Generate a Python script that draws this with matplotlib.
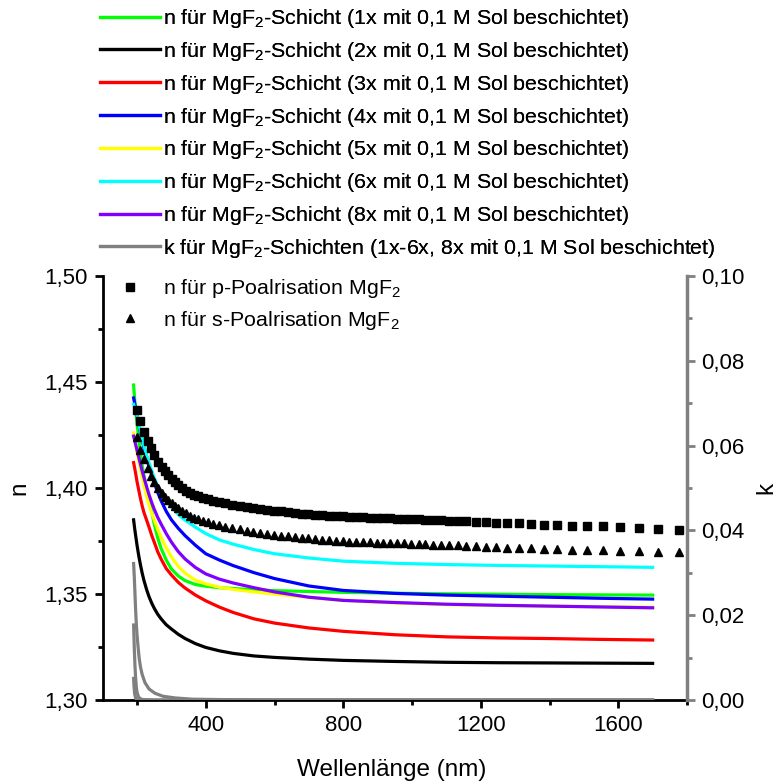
import matplotlib
matplotlib.use("Agg")
import matplotlib.pyplot as plt
from matplotlib.ticker import MultipleLocator, FuncFormatter

plt.rcParams['font.family'] = ['Liberation Sans', 'DejaVu Sans']
plt.rcParams['mathtext.fontset'] = 'custom'
plt.rcParams['mathtext.rm'] = 'Liberation Sans'
plt.rcParams['mathtext.it'] = 'Liberation Sans:italic'
plt.rcParams['mathtext.default'] = 'regular'

# ---------------- data ----------------
wl = [190, 193, 196, 200, 205, 210, 215, 220, 228, 235, 243, 250, 260, 270, 285, 300, 320, 340,
      370, 400, 440, 480, 540, 600, 700, 800, 950, 1100, 1250, 1400, 1550, 1700]
n_1x = [1.4486, 1.4420, 1.4365, 1.4305, 1.4230, 1.4165, 1.4105, 1.4060, 1.3995, 1.3945, 1.3885,
        1.3830, 1.3765, 1.3715, 1.3660, 1.3618, 1.3585, 1.3563, 1.3545, 1.3537, 1.3530, 1.3526,
        1.3520, 1.3516, 1.3512, 1.3508, 1.3504, 1.3501, 1.3499, 1.3497, 1.3496, 1.3495]
n_2x = [1.3850, 1.3810, 1.3775, 1.3730, 1.3680, 1.3637, 1.3598, 1.3565, 1.3520, 1.3487, 1.3456,
        1.3433, 1.3405, 1.3383, 1.3355, 1.3335, 1.3310, 1.3290, 1.3266, 1.3248, 1.3232, 1.3220,
        1.3208, 1.3201, 1.3193, 1.3187, 1.3182, 1.3178, 1.3176, 1.3175, 1.3174, 1.3173]
n_3x = [1.4120, 1.4095, 1.4068, 1.4030, 1.3990, 1.3950, 1.3915, 1.3885, 1.3848, 1.3815, 1.3775,
        1.3745, 1.3700, 1.3665, 1.3620, 1.3590, 1.3555, 1.3528, 1.3495, 1.3468, 1.3438, 1.3413,
        1.3383, 1.3363, 1.3340, 1.3324, 1.3308, 1.3298, 1.3293, 1.3290, 1.3286, 1.3283]
n_4x = [1.4425, 1.4400, 1.4370, 1.4340, 1.4300, 1.4260, 1.4225, 1.4190, 1.4140, 1.4100, 1.4060,
        1.4025, 1.3980, 1.3940, 1.3890, 1.3850, 1.3810, 1.3775, 1.3730, 1.3690, 1.3660, 1.3634,
        1.3601, 1.3573, 1.3538, 1.3517, 1.3503, 1.3495, 1.3490, 1.3485, 1.3480, 1.3476]
n_5x = [1.4260, 1.4235, 1.4205, 1.4170, 1.4125, 1.4085, 1.4048, 1.4012, 1.3960, 1.3920, 1.3880,
        1.3850, 1.3805, 1.3768, 1.3718, 1.3675, 1.3630, 1.3598, 1.3565, 1.3548, 1.3532, 1.3522,
        1.3510, 1.3500, 1.3484, 1.3470, 1.3458, 1.3450, 1.3446, 1.3443, 1.3440, 1.3438]
n_6x = [1.4395, 1.4380, 1.4362, 1.4345, 1.4305, 1.4268, 1.4232, 1.4200, 1.4155, 1.4118, 1.4080,
        1.4048, 1.4010, 1.3978, 1.3940, 1.3912, 1.3875, 1.3848, 1.3815, 1.3785, 1.3755, 1.3735,
        1.3710, 1.3690, 1.3670, 1.3655, 1.3645, 1.3639, 1.3635, 1.3632, 1.3629, 1.3626]
n_8x = [1.4245, 1.4225, 1.4205, 1.4178, 1.4145, 1.4112, 1.4080, 1.4050, 1.4005, 1.3968, 1.3930,
        1.3900, 1.3862, 1.3830, 1.3785, 1.3745, 1.3700, 1.3665, 1.3625, 1.3595, 1.3570, 1.3552,
        1.3530, 1.3510, 1.3485, 1.3470, 1.3460, 1.3452, 1.3447, 1.3443, 1.3439, 1.3435]

wl_k1 = [190, 192, 194, 196, 198, 200, 203, 206, 210, 215, 223, 235, 252, 275, 310, 360, 450, 600, 1700]
k1 = [0.0322, 0.0290, 0.0250, 0.0210, 0.0178, 0.0153, 0.0125, 0.0100, 0.0078, 0.0060, 0.0041,
      0.0026, 0.0016, 0.0009, 0.0005, 0.0002, 0.0001, 0.0, 0.0]
wl_k2 = [190, 191, 192, 194, 196, 198, 200, 205, 215, 250, 1700]
k2 = [0.0177, 0.0150, 0.0122, 0.0080, 0.0050, 0.0030, 0.0018, 0.0006, 0.0001, 0.0, 0.0]
wl_k3 = [190, 191, 193, 196, 200, 1700]
k3 = [0.0051, 0.0035, 0.0015, 0.0004, 0.0, 0.0]

wl_pts = [199, 210, 220, 231, 241, 250, 262, 272, 281, 291, 301, 310, 320, 332, 343, 354, 366, 378,
          393, 407, 422, 439, 456, 477, 500, 519, 537, 558, 577, 597, 618, 639, 660, 679, 697, 718,
          738, 759, 779, 799, 818, 837, 857, 878, 898, 917, 936, 956, 977, 998, 1019, 1038, 1061,
          1084, 1108, 1133, 1157, 1186, 1215, 1245, 1277, 1311, 1345, 1384, 1422, 1465, 1509, 1556,
          1606, 1661, 1717, 1777]
n_p = [1.4370, 1.4315, 1.4265, 1.4222, 1.4188, 1.4158, 1.4122, 1.4098, 1.4080, 1.4060, 1.4042, 1.4027,
       1.4013, 1.3999, 1.3988, 1.3978, 1.3969, 1.3962, 1.3955, 1.3948, 1.3941, 1.3934, 1.3928, 1.3921,
       1.3915, 1.3911, 1.3907, 1.3902, 1.3898, 1.3894, 1.3890, 1.3886, 1.3882, 1.3879, 1.3877, 1.3874,
       1.3872, 1.3870, 1.3868, 1.3866, 1.3865, 1.3863, 1.3862, 1.3860, 1.3859, 1.3858, 1.3857, 1.3856,
       1.3854, 1.3853, 1.3852, 1.3851, 1.3849, 1.3848, 1.3846, 1.3845, 1.3843, 1.3841, 1.3839, 1.3837,
       1.3835, 1.3833, 1.3831, 1.3828, 1.3825, 1.3823, 1.3821, 1.3819, 1.3816, 1.3812, 1.3808, 1.3803]
n_s = [1.4240, 1.4180, 1.4135, 1.4095, 1.4057, 1.4030, 1.3998, 1.3975, 1.3958, 1.3942, 1.3928, 1.3916,
       1.3904, 1.3891, 1.3880, 1.3869, 1.3860, 1.3852, 1.3845, 1.3838, 1.3831, 1.3824, 1.3818, 1.3812,
       1.3805, 1.3798, 1.3792, 1.3788, 1.3784, 1.3780, 1.3776, 1.3772, 1.3769, 1.3766, 1.3763, 1.3760,
       1.3757, 1.3754, 1.3751, 1.3749, 1.3747, 1.3746, 1.3745, 1.3744, 1.3743, 1.3742, 1.3741, 1.3740,
       1.3739, 1.3737, 1.3736, 1.3734, 1.3733, 1.3732, 1.3730, 1.3729, 1.3727, 1.3725, 1.3723, 1.3721,
       1.3719, 1.3717, 1.3715, 1.3713, 1.3711, 1.3710, 1.3708, 1.3706, 1.3704, 1.3701, 1.3699, 1.3697]

series_n = [("1x", n_1x, "#00ff00"), ("2x", n_2x, "#000000"), ("3x", n_3x, "#ff0000"),
            ("4x", n_4x, "#0000ff"), ("5x", n_5x, "#ffff00"), ("6x", n_6x, "#00ffff"),
            ("8x", n_8x, "#8000ff")]
k_label = "k für MgF$_2$-Schichten (1x-6x, 8x mit 0,1 M Sol beschichtet)"
p_label = "n für p-Poalrisation MgF$_2$"
s_label = "n für s-Poalrisation MgF$_2$"

# ---------------- figure ----------------
fig = plt.figure(figsize=(7.79, 7.84), dpi=100)
ax = fig.add_axes([0.1318, 0.1071, 0.7501, 0.5408])
ax2 = ax.twinx()

handles = []
labels = []
for name, vals, col in series_n:
    h, = ax.plot(wl, vals, color=col, lw=2.3, solid_joinstyle='round')
    handles.append(h)
    labels.append(f"n für MgF$_2$-Schicht ({name} mit 0,1 M Sol beschichtet)")

hp, = ax.plot(wl_pts, n_p, ls='none', marker='s', ms=5.2, color='black', zorder=5)
hs, = ax.plot(wl_pts, n_s, ls='none', marker='^', ms=5.6, color='black', zorder=5)

grey = '#808080'
hk, = ax2.plot(wl_k1, k1, color=grey, lw=2.3)
ax2.plot(wl_k2, k2, color=grey, lw=2.3)
ax2.plot(wl_k3, k3, color=grey, lw=2.3)
handles.append(hk)
labels.append(k_label)

ax.set_xlim(100, 1800)
ax.set_ylim(1.30, 1.50)
ax2.set_ylim(0.0, 0.10)

comma2 = FuncFormatter(lambda v, p: f"{v:.2f}".replace('.', ','))
ax.xaxis.set_major_locator(MultipleLocator(400))
ax.xaxis.set_minor_locator(MultipleLocator(200))
ax.yaxis.set_major_locator(MultipleLocator(0.05))
ax.yaxis.set_minor_locator(MultipleLocator(0.025))
ax.yaxis.set_major_formatter(comma2)
ax2.yaxis.set_major_locator(MultipleLocator(0.02))
ax2.yaxis.set_minor_locator(MultipleLocator(0.01))
ax2.yaxis.set_major_formatter(comma2)

for s in ['top', 'right']:
    ax.spines[s].set_visible(False)
for s in ['top', 'left', 'bottom']:
    ax2.spines[s].set_visible(False)
ax.spines['left'].set_linewidth(2.0)
ax.spines['bottom'].set_linewidth(2.0)
ax2.spines['right'].set_linewidth(2.5)
ax2.spines['right'].set_color(grey)

fs_tick = 16
ax.tick_params(axis='both', which='major', direction='out', length=6, width=2, labelsize=fs_tick, pad=4.5)
ax.tick_params(axis='both', which='minor', direction='out', length=3.5, width=2)
ax2.tick_params(axis='y', which='major', direction='out', length=6, width=2, colors=grey,
                labelcolor='black', labelsize=fs_tick, pad=4)
ax2.tick_params(axis='y', which='minor', direction='out', length=3.5, width=2, colors=grey)

ax.set_xlabel("Wellenlänge (nm)", fontsize=17.5)
ax.xaxis.set_label_coords(0.495, -0.138)
ax.set_ylabel("n", fontsize=17.5)
ax.yaxis.set_label_coords(-0.124, 0.5)
ax2.set_ylabel("k", fontsize=17.5)
ax2.yaxis.set_label_coords(1.1165, 0.5)

leg1 = fig.legend(handles, labels, loc='upper left', bbox_to_anchor=(100 / 779, 1 - 7 / 784),
                  frameon=False, fontsize=15.4, handlelength=2.8, handletextpad=0.15,
                  labelspacing=0.46, borderpad=0, borderaxespad=0)
leg2 = fig.legend([hp, hs], [p_label, s_label], loc='upper left',
                  bbox_to_anchor=(100 / 779, 1 - 277 / 784),
                  frameon=False, fontsize=15.4, handlelength=2.8, handletextpad=0.15,
                  labelspacing=0.42, borderpad=0, borderaxespad=0)
fig.add_artist(leg1)

fig.savefig("out.png", dpi=100)
